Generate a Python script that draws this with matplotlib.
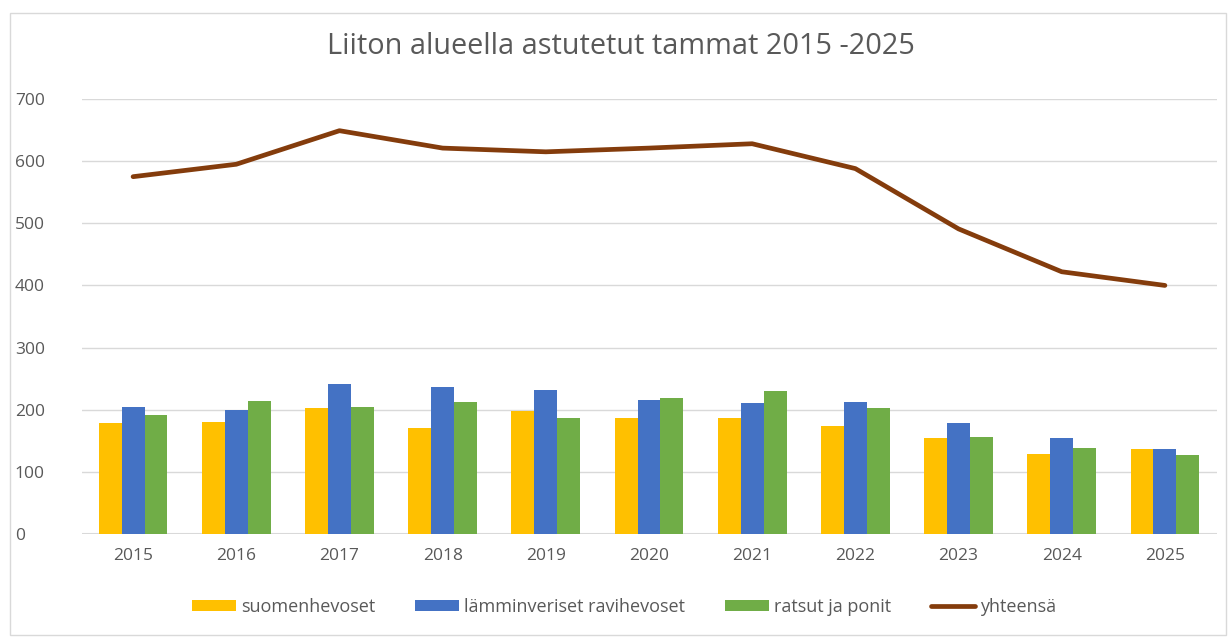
import numpy as np
import matplotlib
matplotlib.use("Agg")
import matplotlib.pyplot as plt
from matplotlib.patches import Rectangle

# Data
years = ["2015", "2016", "2017", "2018", "2019", "2020", "2021", "2022", "2023", "2024", "2025"]
suomenhevoset = [178, 181, 202, 171, 198, 186, 187, 173, 155, 128, 136]
lamminveriset = [205, 200, 242, 237, 231, 216, 211, 212, 179, 155, 136]
ratsut = [192, 214, 205, 213, 186, 219, 230, 203, 156, 138, 127]
yhteensa = [575, 595, 649, 621, 615, 621, 628, 588, 491, 422, 400]

plt.rcParams['font.family'] = ['Open Sans', 'DejaVu Sans']
text_col = '#595959'

fig = plt.figure(figsize=(12.29, 6.37), dpi=100)
ax = fig.add_axes([81.5 / 1229, 1 - 534 / 637, 1135 / 1229, 435 / 637])

x = np.arange(len(years))
w = 0.222
b1 = ax.bar(x - w, suomenhevoset, w, color='#FFC000', label='suomenhevoset', zorder=3)
b2 = ax.bar(x, lamminveriset, w, color='#4472C4', label='lämminveriset ravihevoset', zorder=3)
b3 = ax.bar(x + w, ratsut, w, color='#70AD47', label='ratsut ja ponit', zorder=3)
l1, = ax.plot(x, yhteensa, color='#843C0C', lw=3.4, label='yhteensä', zorder=4,
              solid_capstyle='round')

ax.set_xlim(-0.5, len(years) - 0.5)
ax.set_ylim(0, 700)
ax.set_yticks(range(0, 701, 100))
ax.set_xticks(x)
ax.set_xticklabels(years)
ax.grid(axis='y', color='#D9D9D9', lw=1, zorder=0)
ax.axhline(0, color='#D9D9D9', lw=1.5, zorder=2)
for s in ax.spines.values():
    s.set_visible(False)
ax.tick_params(length=0, labelsize=12.5, colors=text_col, pad=10)
ax.tick_params(axis='y', pad=48)
for lab in ax.get_yticklabels():
    lab.set_horizontalalignment('left')

fig.text(0.505, 1 - 47 / 637, 'Liiton alueella astutetut tammat 2015 -2025',
         ha='center', va='center', fontsize=20.8, color=text_col)

ax.legend([b1, b2, b3, l1],
          ['suomenhevoset', 'lämminveriset ravihevoset', 'ratsut ja ponit', 'yhteensä'],
          loc='center', bbox_to_anchor=(0.478, (534 - 607) / 435), ncol=4,
          frameon=False, fontsize=13, labelcolor=text_col, handlelength=2.45,
          handleheight=0.6, columnspacing=2.2, handletextpad=0.28)

fig.patches.append(Rectangle((10 / 1229, 2 / 637), 1216 / 1229, 622 / 637,
                             transform=fig.transFigure, fill=False,
                             edgecolor='#D9D9D9', lw=1))

fig.savefig('out.png', dpi=100)
